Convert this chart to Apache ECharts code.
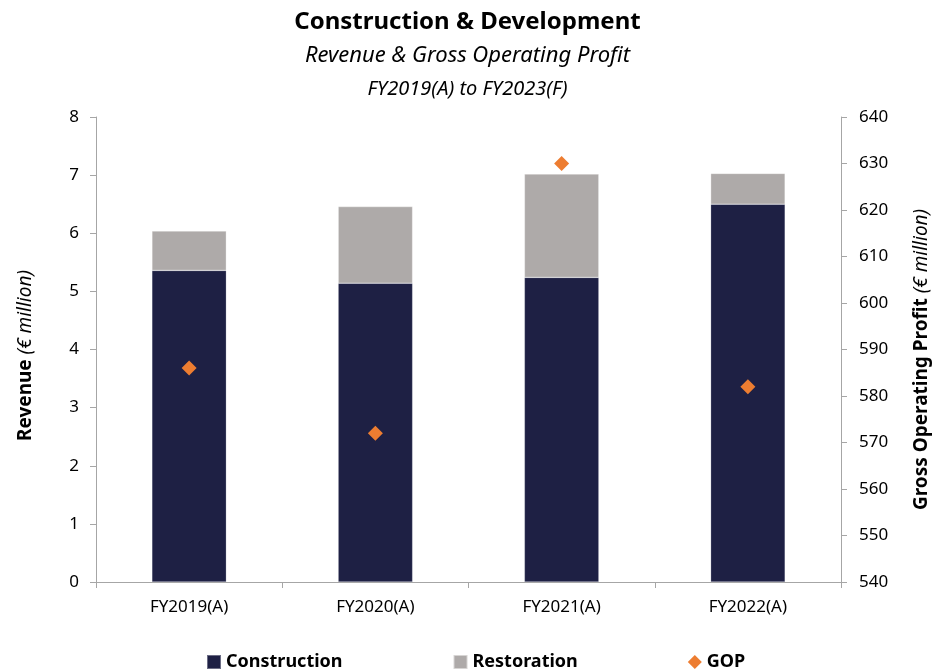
<!DOCTYPE html>
<html>
<head>
<meta charset="utf-8">
<script src="https://cdn.jsdelivr.net/npm/echarts@6/dist/echarts.min.js"></script>
<style>
  html, body { margin: 0; padding: 0; background: #fff; }
  #chart { width: 935px; height: 670px; }
</style>
</head>
<body>
<div id="chart"></div>
<script>
// data
const years = ["FY2019(A)", "FY2020(A)", "FY2021(A)", "FY2022(A)"];
const construction = [5.36, 5.14, 5.24, 6.5];
const restoration = [0.68, 1.32, 1.78, 0.53];
const gop = [586, 572, 630, 582];

const font = "Noto Sans";
const axisGrey = "#a6a6a6";

let myChart = echarts.init(document.getElementById("chart"));

let option = {
  textStyle: { fontFamily: font, color: "#000" },
  title: [
    {
      text: "Construction & Development",
      left: "center",
      top: 5,
      textStyle: { fontFamily: font, fontSize: 24, fontWeight: "bold", color: "#000" }
    },
    {
      text: "Revenue & Gross Operating Profit",
      left: "center",
      top: 40,
      textStyle: { fontFamily: font, fontSize: 22, fontStyle: "italic", fontWeight: "normal", color: "#000" }
    },
    {
      text: "FY2019(A) to FY2023(F)",
      left: "center",
      top: 74,
      textStyle: { fontFamily: font, fontSize: 20, fontStyle: "italic", fontWeight: "normal", color: "#000" }
    }
  ],
  grid: { left: 96, right: 94, top: 117, bottom: 88, outerBoundsMode: "none" },
  legend: {
    top: 648,
    left: 201,
    itemGap: 110,
    itemWidth: 14,
    itemHeight: 14,
    textStyle: { fontFamily: font, fontSize: 18, fontWeight: "bold", color: "#000" },
    data: [
      { name: "Construction", icon: "rect" },
      { name: "Restoration", icon: "rect" },
      { name: "GOP", icon: "diamond" }
    ]
  },
  xAxis: {
    type: "category",
    data: years,
    axisLine: { lineStyle: { color: axisGrey, width: 1 } },
    axisTick: { show: true, length: 6, lineStyle: { color: axisGrey } },
    axisLabel: { color: "#000", fontSize: 17, margin: 17, fontFamily: font }
  },
  yAxis: [
    {
      type: "value",
      min: 0,
      max: 8,
      interval: 1,
      name: "{b|Revenue}{i| (€ million)}",
      nameLocation: "middle",
      nameRotate: 90,
      nameGap: 61,
      nameTextStyle: {
        padding: [0, 12, 0, 0],
        rich: {
          b: { fontFamily: font, fontSize: 19, fontWeight: "bold", color: "#000" },
          i: { fontFamily: font, fontSize: 19, fontStyle: "italic", color: "#000" }
        }
      },
      splitLine: { show: false },
      axisLine: { show: true, lineStyle: { color: axisGrey } },
      axisTick: { show: true, length: 6, lineStyle: { color: axisGrey } },
      axisLabel: { color: "#000", fontSize: 17, margin: 17, fontFamily: font }
    },
    {
      type: "value",
      min: 540,
      max: 640,
      interval: 10,
      position: "right",
      name: "{b|Gross Operating Profit}{i| (€ million)}",
      nameLocation: "middle",
      nameRotate: 90,
      nameGap: 71,
      nameTextStyle: {
        padding: [0, 20, 0, 0],
        rich: {
          b: { fontFamily: font, fontSize: 19, fontWeight: "bold", color: "#000" },
          i: { fontFamily: font, fontSize: 19, fontStyle: "italic", color: "#000" }
        }
      },
      splitLine: { show: false },
      axisLine: { show: true, lineStyle: { color: axisGrey } },
      axisTick: { show: true, length: 6, lineStyle: { color: axisGrey } },
      axisLabel: { color: "#000", fontSize: 17, margin: 18, fontFamily: font }
    }
  ],
  series: [
    {
      name: "Construction",
      type: "bar",
      stack: "rev",
      data: construction,
      barWidth: "40%",
      itemStyle: { color: "#1e2044", borderColor: "rgba(255,255,255,0.35)", borderWidth: 0.6 }
    },
    {
      name: "Restoration",
      type: "bar",
      stack: "rev",
      data: restoration,
      barWidth: "40%",
      itemStyle: { color: "#aeaaa9", borderColor: "rgba(255,255,255,0.5)", borderWidth: 0.6 }
    },
    {
      name: "GOP",
      type: "scatter",
      yAxisIndex: 1,
      data: gop,
      symbol: "diamond",
      symbolSize: 15,
      itemStyle: { color: "#ed7d31", opacity: 1 },
      z: 5
    }
  ]
};

myChart.setOption(option);
</script>
</body>
</html>
